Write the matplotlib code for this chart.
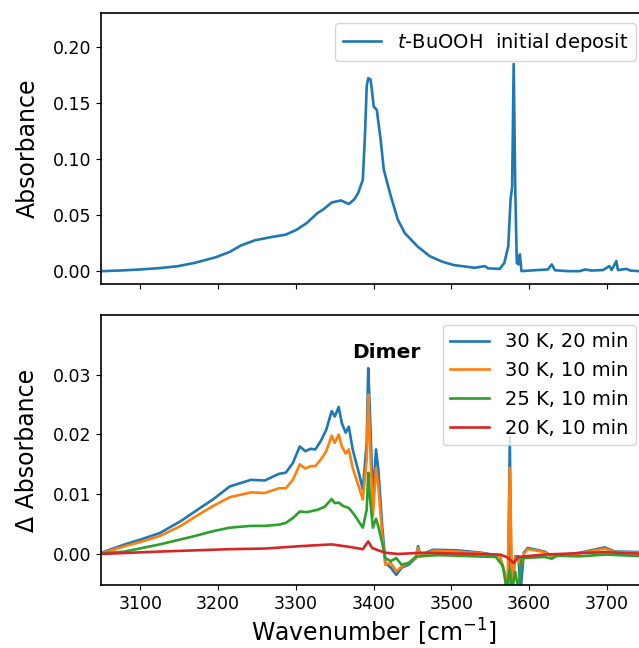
import matplotlib
matplotlib.use("Agg")
import matplotlib.pyplot as plt

# ---------------- data ----------------
top_wn = [3050, 3075, 3100, 3125, 3148, 3170, 3197, 3215, 3229, 3247, 3269, 3287, 3301, 3314,
          3328, 3335, 3346, 3358, 3363, 3368, 3375, 3380, 3386, 3389, 3391, 3393, 3396, 3398,
          3400, 3404, 3409, 3413, 3422, 3431, 3440, 3456, 3472, 3488, 3503, 3530, 3543, 3547,
          3562, 3568, 3573, 3576, 3578, 3580, 3582, 3584, 3586, 3588, 3590, 3611, 3624, 3629,
          3633, 3650, 3665, 3672, 3680, 3695, 3703, 3706, 3712, 3714, 3725, 3730, 3741, 3750]
top_abs = [0.000, 0.0006, 0.0015, 0.0027, 0.0044, 0.0074, 0.0124, 0.0172, 0.0228, 0.0275, 0.0305,
           0.0326, 0.0370, 0.0430, 0.0520, 0.0550, 0.0613, 0.0631, 0.0615, 0.0600, 0.0640, 0.0697,
           0.0815, 0.125, 0.165, 0.1724, 0.1710, 0.160, 0.147, 0.144, 0.117, 0.0905, 0.067, 0.046,
           0.034, 0.0223, 0.0134, 0.0085, 0.0054, 0.0030, 0.0045, 0.0025, 0.0020, 0.0074, 0.022,
           0.064, 0.075, 0.185, 0.075, 0.0074, 0.006, 0.015, 0.0, 0.001, 0.0015, 0.006, 0.0008,
           0.0, 0.0, 0.0015, 0.0005, 0.001, 0.0045, 0.001, 0.009, 0.001, 0.002, 0.0005, 0.0, 0.0]
top_label = "$t$-BuOOH  initial deposit"

b1_wn = [3050, 3080, 3100, 3125, 3152, 3170, 3193, 3215, 3242, 3260, 3278, 3287, 3296, 3305, 3312,
         3319, 3325, 3332, 3339, 3346, 3350, 3355, 3359, 3364, 3368, 3373, 3382, 3386, 3391, 3393,
         3395, 3399, 3403, 3406, 3411, 3415, 3422, 3429, 3436, 3445, 3454, 3457, 3460, 3476, 3508,
         3539, 3562, 3568, 3573, 3575, 3577, 3582, 3586, 3589, 3593, 3598, 3620, 3629, 3665, 3697,
         3710, 3750]
b1_abs = [0.0002, 0.0016, 0.0024, 0.0035, 0.0055, 0.0071, 0.0091, 0.0113, 0.0124, 0.0123, 0.0134,
          0.0136, 0.0152, 0.0180, 0.0172, 0.0176, 0.0175, 0.0189, 0.0208, 0.0239, 0.0230, 0.0246,
          0.0219, 0.0203, 0.0213, 0.0175, 0.0130, 0.0108, 0.0186, 0.0311, 0.0242, 0.0091, 0.0175,
          0.0141, 0.0046, -0.0015, -0.0023, -0.0035, -0.0023, -0.0018, -0.0007, 0.0013, -0.0002,
          0.0007, 0.0006, 0.0002, -0.0003, -0.0030, -0.0060, 0.0195, -0.0060, -0.0004, -0.0004,
          -0.0060, 0.0002, 0.0010, 0.0004, -0.0004, 0.0002, 0.0011, 0.0004, 0.0003]

b2_wn = [3050, 3080, 3100, 3125, 3152, 3170, 3193, 3215, 3242, 3260, 3278, 3287, 3296, 3305, 3312,
         3319, 3325, 3332, 3339, 3346, 3350, 3355, 3359, 3364, 3368, 3373, 3382, 3386, 3391, 3393,
         3395, 3399, 3403, 3406, 3411, 3415, 3422, 3429, 3436, 3445, 3454, 3457, 3460, 3476, 3508,
         3539, 3562, 3568, 3572, 3575, 3578, 3582, 3586, 3589, 3593, 3598, 3620, 3629, 3665, 3697,
         3710, 3750]
b2_abs = [0.0001, 0.0013, 0.0020, 0.0030, 0.0047, 0.0062, 0.0080, 0.0095, 0.0103, 0.0102, 0.0110,
          0.0110, 0.0124, 0.0150, 0.0143, 0.0147, 0.0147, 0.0158, 0.0172, 0.0198, 0.0186, 0.0200,
          0.0180, 0.0168, 0.0175, 0.0144, 0.0108, 0.0091, 0.0158, 0.0267, 0.0197, 0.0063, 0.0144,
          0.0113, 0.0030, -0.0018, -0.0015, -0.0029, -0.0021, -0.0015, -0.0007, 0.0010, -0.0003,
          0.0005, 0.0004, 0.0001, -0.0004, -0.0030, -0.0060, 0.0144, -0.0060, -0.0006, -0.0010,
          -0.0020, 0.0000, 0.0008, 0.0003, -0.0004, 0.0001, 0.0009, 0.0003, 0.0002]

b3_wn = [3050, 3080, 3125, 3170, 3193, 3215, 3242, 3260, 3278, 3287, 3296, 3305, 3314, 3328, 3337,
         3346, 3350, 3355, 3361, 3368, 3375, 3382, 3386, 3391, 3393, 3395, 3399, 3403, 3406, 3411,
         3415, 3422, 3429, 3436, 3445, 3454, 3467, 3485, 3530, 3557, 3566, 3571, 3575, 3578, 3582,
         3586, 3590, 3620, 3629, 3635, 3665, 3697, 3750]
b3_abs = [0.0001, 0.0004, 0.0016, 0.0030, 0.0038, 0.0044, 0.0047, 0.0047, 0.0049, 0.0052, 0.0060,
          0.0071, 0.0070, 0.0074, 0.0079, 0.0092, 0.0085, 0.0086, 0.0080, 0.0077, 0.0066, 0.0052,
          0.0044, 0.0074, 0.0136, 0.0097, 0.0044, 0.0059, 0.0046, 0.0018, -0.0007, -0.0012,
          -0.0007, -0.0018, -0.0015, -0.0005, -0.0003, -0.0002, -0.0004, -0.0005, -0.0020,
          -0.0060, -0.0026, -0.0060, -0.0030, -0.0060, -0.0007, -0.0005, -0.0008, -0.0003,
          -0.0004, -0.0001, -0.0004]

b4_wn = [3050, 3125, 3215, 3260, 3305, 3346, 3368, 3386, 3393, 3398, 3404, 3415, 3431, 3463, 3530,
         3562, 3571, 3580, 3586, 3620, 3697, 3750]
b4_abs = [0.0000, 0.0004, 0.0008, 0.0009, 0.0013, 0.0016, 0.0012, 0.0008, 0.0021, 0.0010, 0.0007,
          0.0002, 0.0000, 0.0002, 0.0000, -0.0001, -0.0005, -0.0015, -0.0005, -0.0001, 0.0003, 0.0000]

bottom_labels = ["30 K, 20 min", "30 K, 10 min", "25 K, 10 min", "20 K, 10 min"]
bottom_colors = ["#1f77b4", "#ff7f0e", "#2ca02c", "#d62728"]

# ---------------- figure ----------------
fig = plt.figure(figsize=(6.39, 6.48), dpi=100)
ax1 = fig.add_axes([0.1588, 0.5617, 0.852, 0.4182])
ax2 = fig.add_axes([0.1588, 0.0972, 0.852, 0.4167], sharex=ax1)

lw = 1.9
ax1.plot(top_wn, top_abs, color="#1f77b4", lw=lw, label=top_label)
ax1.set_ylim(-0.0115, 0.2305)
ax1.set_yticks([0.00, 0.05, 0.10, 0.15, 0.20])
ax1.set_ylabel("Absorbance", fontsize=17, labelpad=10)
ax1.legend(loc="upper right", fontsize=14, handlelength=2.0)
ax1.tick_params(labelbottom=False, labelsize=12.5)

series = [(b1_wn, b1_abs), (b2_wn, b2_abs), (b3_wn, b3_abs), (b4_wn, b4_abs)]
for (wn, ab), lab, col in zip(series, bottom_labels, bottom_colors):
    ax2.plot(wn, ab, color=col, lw=lw, label=lab)
ax2.set_ylim(-0.0052, 0.0400)
ax2.set_yticks([0.00, 0.01, 0.02, 0.03])
ax2.set_xlim(3050, 3750)
ax2.set_xticks([3100, 3200, 3300, 3400, 3500, 3600, 3700])
ax2.set_ylabel("Δ Absorbance", fontsize=17, labelpad=10)
ax2.set_xlabel("Wavenumber [cm$^{-1}$]", fontsize=17, labelpad=3)
ax2.tick_params(labelsize=12.5)
ax2.legend(loc="upper right", fontsize=14, handlelength=2.0)
ax2.text(3372, 0.0322, "Dimer", fontsize=14.5, fontweight="bold", ha="left", va="bottom")

for ax in (ax1, ax2):
    for s in ax.spines.values():
        s.set_linewidth(1.2)

fig.savefig("out.png", dpi=100)
